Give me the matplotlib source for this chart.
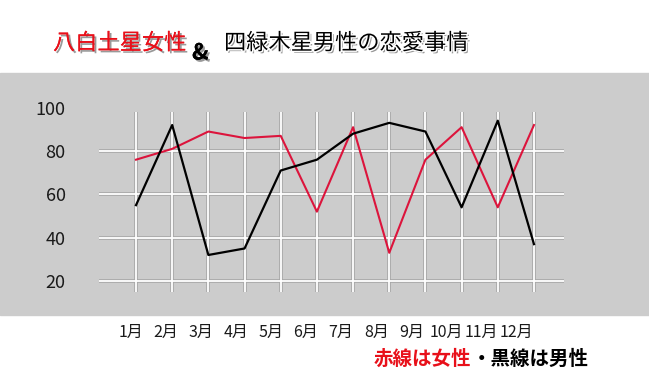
import matplotlib.pyplot as plt
import matplotlib.patheffects as pe
from matplotlib.patches import Rectangle

plt.rcParams['font.family'] = ['Noto Sans CJK JP', 'DejaVu Sans']

months = ["1月", "2月", "3月", "4月", "5月", "6月",
          "7月", "8月", "9月", "10月", "11月", "12月"]
women = [76, 81, 89, 86, 87, 52, 91, 33, 76, 91, 54, 92]
men = [55, 92, 32, 35, 71, 76, 88, 93, 89, 54, 94, 37]
yticks = [20, 40, 60, 80, 100]

x = list(range(1, len(months) + 1))

fig = plt.figure(figsize=(6.49, 3.88), dpi=100)
fig.patch.set_facecolor('white')
# gray band behind the chart
fig.patches.append(Rectangle((0, 1 - 315 / 388), 1, (315 - 73) / 388,
                             transform=fig.transFigure, color='#cccccc', zorder=0))

ax = fig.add_axes([99 / 649, 1 - 291.8 / 388, (564 - 99) / 649, (291.8 - 107.7) / 388])
ax.set_zorder(2)
ax.patch.set_alpha(0)
ax.set_xlim(-0.023, 12.83)
ax.set_ylim(15, 100)
for s in ax.spines.values():
    s.set_visible(False)

# grid: white lines with a gray edge
for yv in yticks[:-1]:
    ax.axhline(yv, color='#a6a6a6', lw=2.6, zorder=1)
    ax.axhline(yv, color='white', lw=1.3, zorder=2)
ax.vlines(x, 15, 98.2, color='#a6a6a6', lw=2.6, zorder=1)
ax.vlines(x, 15, 98.2, color='white', lw=1.3, zorder=2)

ax.plot(x, women, color='#dc143c', lw=1.5, zorder=3)
ax.plot(x, men, color='black', lw=1.6, zorder=4)

ax.set_yticks(yticks)
ax.set_yticklabels([str(v) for v in yticks], fontsize=13)
ax.tick_params(axis='y', length=0, pad=24, colors='#1a1a1a')
ax.set_xticks([])

# month labels sit a bit left of the lines
for i, m in enumerate(months):
    ax.text(x[i] - 0.15 - 0.03 * i, -0.22, m, transform=ax.get_xaxis_transform(),
            ha='center', va='center', fontsize=11.5, color='#1a1a1a')

shadow = [pe.withSimplePatchShadow(offset=(1.5, -1.5), shadow_rgbFace='#555555', alpha=0.6),
          pe.Normal()]
fig.text(53 / 649, 1 - 43 / 388, "八白土星女性", color='#e8101a', fontsize=16,
         ha='left', va='center', path_effects=shadow)
fig.text(192 / 649, 1 - 53 / 388, "&", color='black', fontsize=16, fontweight='bold',
         ha='left', va='center', path_effects=shadow)
fig.text(224 / 649, 1 - 43 / 388, "四緑木星男性の恋愛事情", color='black', fontsize=16,
         ha='left', va='center',
         path_effects=[pe.withSimplePatchShadow(offset=(1.5, -1.5), shadow_rgbFace='#555555', alpha=0.6),
                       pe.Stroke(linewidth=2, foreground='white'), pe.Normal()])

t1 = fig.text(374 / 649, 1 - 359 / 388, "赤線は女性", color='#e8101a', fontsize=14,
              fontweight='bold', ha='left', va='center')
fig.canvas.draw()
bb = t1.get_window_extent()
fig.text(bb.x1 / fig.bbox.width, 1 - 359 / 388, "・黒線は男性", color='black', fontsize=14,
         fontweight='bold', ha='left', va='center')

fig.savefig('out.png', dpi=100, facecolor='white')
